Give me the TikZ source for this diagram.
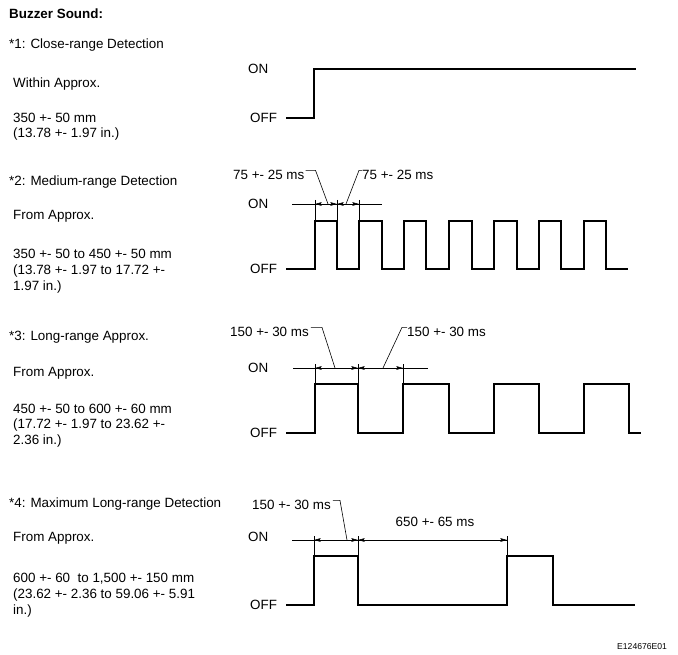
\documentclass[tikz,border=0pt]{standalone}
\usepackage{fontspec}
\setmainfont{Liberation Sans}
\usetikzlibrary{arrows.meta}
\begin{document}
\begin{tikzpicture}[x=1pt,y=-1pt,
  txt/.style={anchor=base west, inner sep=0pt, font=\fontsize{13.4}{16}\selectfont},
  wave/.style={line width=1.4pt, line join=miter},
  thin/.style={line width=0.6pt},
  dimarr/.style={line width=0.6pt, {Stealth[length=6.5pt,width=3.6pt,inset=0.8pt]}-{Stealth[length=6.5pt,width=3.6pt,inset=0.8pt]}},
  ]
\useasboundingbox (0,0) rectangle (678,655);

% ---------- left texts ----------
\node[txt] (title) at (9,18.5) {\textbf{Buzzer Sound:}};
\node[txt] (h1) at (9,48.5) {*1: Close-range Detection};
\node[txt] (w1) at (13,87.5) {Within Approx.};
\node[txt] (d1a) at (13,122.5) {350 +- 50 mm};
\node[txt] (d1b) at (13,138) {(13.78 +- 1.97 in.)};

\node[txt] (h2) at (9,185.5) {*2: Medium-range Detection};
\node[txt] (w2) at (13,219.5) {From Approx.};
\node[txt] (d2a) at (13,258.5) {350 +- 50 to 450 +- 50 mm};
\node[txt] (d2b) at (13,274.5) {(13.78 +- 1.97 to 17.72 +-};
\node[txt] (d2c) at (13,290.5) {1.97 in.)};

\node[txt] (h3) at (9,340.5) {*3: Long-range Approx.};
\node[txt] (w3) at (13,376.5) {From Approx.};
\node[txt] (d3a) at (13,413.5) {450 +- 50 to 600 +- 60 mm};
\node[txt] (d3b) at (13,428.5) {(17.72 +- 1.97 to 23.62 +-};
\node[txt] (d3c) at (13,444.5) {2.36 in.)};

\node[txt] (h4) at (9,507.5) {*4: Maximum Long-range Detection};
\node[txt] (w4) at (13,541.5) {From Approx.};
\node[txt] (d4a) at (13,582.5) {600 +- 60\ \ to 1,500 +- 150 mm};
\node[txt] (d4b) at (13,598.5) {(23.62 +- 2.36 to 59.06 +- 5.91};
\node[txt] (d4c) at (13,614.5) {in.)};

% ---------- ON / OFF labels ----------
\node[txt] (on1) at (248,73.5) {ON};
\node[txt] (off1) at (250,122.5) {OFF};
\node[txt] (on2) at (248,209) {ON};
\node[txt] (off2) at (250,273.5) {OFF};
\node[txt] (on3) at (248,372.5) {ON};
\node[txt] (off3) at (250,437.5) {OFF};
\node[txt] (on4) at (248,541.5) {ON};
\node[txt] (off4) at (250,609.5) {OFF};

% ---------- section 1 ----------
\draw[wave] (286,118) -- (314,118) -- (314,69) -- (636,69);

% ---------- section 2 ----------
\draw[wave] (286,269) -- (315,269) -- (315,221) -- (337,221) -- (337,269)
  -- (359,269) -- (359,221) -- (382,221) -- (382,269) -- (404,269) -- (404,221)
  -- (426,221) -- (426,269) -- (449,269) -- (449,221) -- (472,221) -- (472,269)
  -- (494,269) -- (494,221) -- (517,221) -- (517,269) -- (539,269) -- (539,221)
  -- (561,221) -- (561,269) -- (584,269) -- (584,221) -- (606,221) -- (606,269)
  -- (628,269);
\draw[thin] (292,204) -- (382,204);
\draw[thin] (315,200) -- (315,221);
\draw[thin] (337,200) -- (337,221);
\draw[thin] (359,200) -- (359,221);
\draw[dimarr] (315,204) -- (337,204);
\draw[dimarr] (337,204) -- (359,204);
\node[txt] (l2a) at (233,179.5) {75 +- 25 ms};
\node[txt] (l2b) at (362,179.5) {75 +- 25 ms};
\draw[thin] (l2a.east) ++(1,-4.5) -- ++(10,0) -- (328,204);
\draw[thin] (l2b.west) ++(0,-4.5) -- ++(-3,0) -- (346,204);

% ---------- section 3 ----------
\draw[wave] (286,433) -- (315,433) -- (315,384) -- (358,384) -- (358,433)
  -- (403,433) -- (403,384) -- (449,384) -- (449,433) -- (494,433) -- (494,384)
  -- (539,384) -- (539,433) -- (584,433) -- (584,384) -- (629,384) -- (629,433)
  -- (641,433);
\draw[thin] (293,368) -- (428,368);
\draw[thin] (315,364) -- (315,384);
\draw[thin] (358,364) -- (358,384);
\draw[thin] (403,364) -- (403,384);
\draw[dimarr] (315,368) -- (358,368);
\draw[dimarr] (358,368) -- (403,368);
\node[txt] (l3a) at (230,336.5) {150 +- 30 ms};
\node[txt] (l3b) at (407,336.5) {150 +- 30 ms};
\draw[thin] (l3a.east) ++(2,-4.5) -- ++(11,0) -- (335,368);
\draw[thin] (l3b.west) ++(0,-4.5) -- ++(-5,0) -- (383,368);

% ---------- section 4 ----------
\draw[wave] (286,605) -- (314,605) -- (314,556) -- (358,556) -- (358,605)
  -- (507,605) -- (507,556) -- (553,556) -- (553,605) -- (635,605);
\draw[thin] (292,540) -- (507,540);
\draw[thin] (314,536) -- (314,556);
\draw[thin] (358,536) -- (358,556);
\draw[thin] (507,536) -- (507,556);
\draw[dimarr] (314,540) -- (358,540);
\draw[dimarr] (358,540) -- (507,540);
\node[txt] (l4a) at (252,509.5) {150 +- 30 ms};
\node[txt, anchor=base] (l4b) at (435,526.5) {650 +- 65 ms};
\draw[thin] (l4a.east) ++(2,-4.5) -- ++(7,0) -- (347,540);

% ---------- code ----------
\node[anchor=base west, inner sep=0pt, font=\fontsize{8.6}{10}\selectfont] (code) at (617,649) {E124676E01};
\end{tikzpicture}
\end{document}
